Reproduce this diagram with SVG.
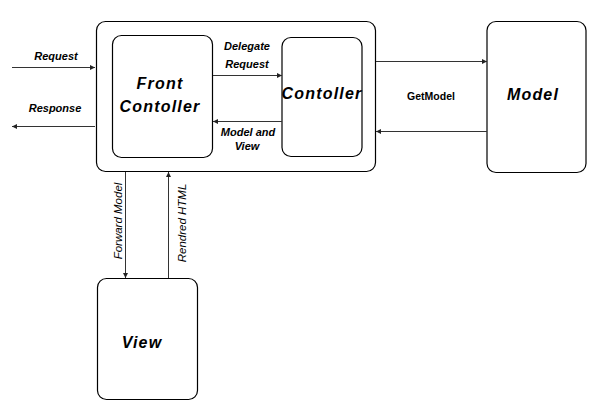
<svg xmlns="http://www.w3.org/2000/svg" width="602" height="415" viewBox="0 0 602 415">
<style>
.box{fill:#fff;stroke:#000;stroke-width:1.2}
.ln{stroke:#333;stroke-width:1;fill:none}
.big{font-family:"Liberation Sans",Arial,sans-serif;font-weight:bold;font-style:italic;font-size:16px;letter-spacing:1.2px;text-anchor:middle;fill:#000}
.lbl{font-family:"Liberation Sans",Arial,sans-serif;font-weight:bold;font-style:italic;font-size:11px;text-anchor:middle;fill:#000}
.gm{font-family:"Liberation Sans",Arial,sans-serif;font-weight:bold;font-size:10.5px;text-anchor:middle;fill:#000}
.vl{font-family:"Liberation Sans",Arial,sans-serif;font-style:italic;font-size:11.5px;text-anchor:middle;fill:#000}
</style>
<defs>
<marker id="ah" viewBox="0 0 10 10" refX="10" refY="5" markerWidth="7" markerHeight="5" markerUnits="userSpaceOnUse" orient="auto">
<path d="M0,0 L10,5 L0,10 z" fill="#222"/>
</marker>
</defs>
<rect width="602" height="415" fill="#fff"/>
<g id="container"><rect class="box" x="96.5" y="21.5" width="279" height="150" rx="9"/></g>
<g id="front-controller"><rect class="box" x="112.5" y="35.5" width="100" height="122" rx="9"/><text class="big" x="160" y="89">Front</text><text class="big" x="160" y="112">Contoller</text></g>
<g id="controller"><rect class="box" x="282" y="37.5" width="80" height="119" rx="9"/><text class="big" x="322" y="99">Contoller</text></g>
<g id="model"><rect class="box" x="487" y="21.5" width="99" height="151" rx="9"/><text class="big" x="533" y="100">Model</text></g>
<g id="view"><rect class="box" x="97.5" y="278.5" width="100" height="121" rx="9"/><text class="big" x="142" y="348">View</text></g>
<g id="connectors">
<line class="ln" x1="12" y1="67.5" x2="95" y2="67.5" marker-end="url(#ah)"/>
<line class="ln" x1="95" y1="126.5" x2="12" y2="126.5" marker-end="url(#ah)"/>
<line class="ln" x1="213" y1="75.5" x2="282" y2="75.5" marker-end="url(#ah)"/>
<line class="ln" x1="282" y1="121.5" x2="213" y2="121.5" marker-end="url(#ah)"/>
<line class="ln" x1="376" y1="61.5" x2="487" y2="61.5" marker-end="url(#ah)"/>
<line class="ln" x1="487" y1="131.5" x2="376" y2="131.5" marker-end="url(#ah)"/>
<line class="ln" x1="125.5" y1="172" x2="125.5" y2="278" marker-end="url(#ah)"/>
<line class="ln" x1="168.5" y1="278" x2="168.5" y2="172" marker-end="url(#ah)"/>
<text class="lbl" x="56" y="60">Request</text>
<text class="lbl" x="55" y="112">Response</text>
<text class="lbl" x="247" y="50">Delegate</text>
<text class="lbl" x="247" y="68">Request</text>
<text class="lbl" x="248" y="136">Model and</text>
<text class="lbl" x="247" y="150">View</text>
<text class="gm" x="431" y="100">GetModel</text>
<text class="vl" transform="translate(121.5,221) rotate(-90)" x="0" y="0">Forward Model</text>
<text class="vl" transform="translate(186,223) rotate(-90)" x="0" y="0">Rendred HTML</text>
</g>
</svg>
